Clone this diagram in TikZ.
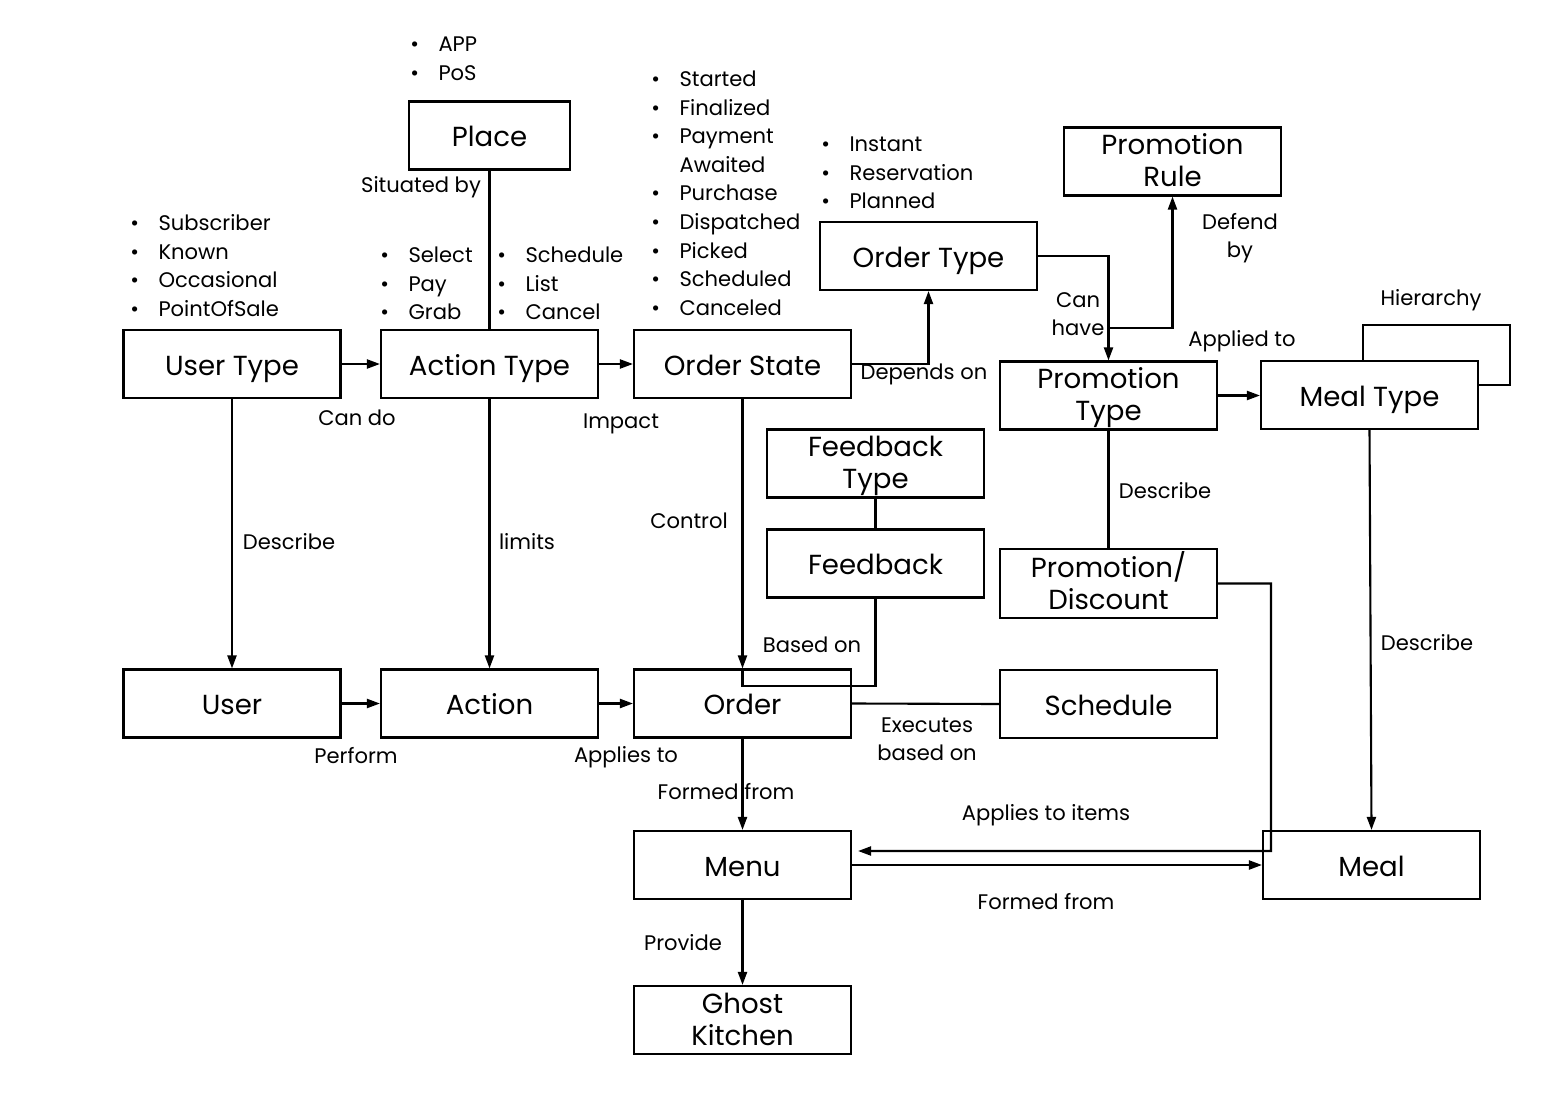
\documentclass[tikz,border=0pt]{standalone}
\usepackage{fontspec}
\usepackage{array}
\setmainfont{Poppins}
\usetikzlibrary{arrows.meta}

% fixed line box for entity names, so one- and two-line names sit alike
\newcommand{\entstrut}{\rule[-4.1pt]{0pt}{18.2pt}}
\newcommand{\ent}[2][-1.4pt]{{\renewcommand{\arraystretch}{0}%
  \raisebox{#1}[\height][\depth]{\begin{tabular}{@{}>{\entstrut}c@{}}#2\end{tabular}}}}
\newcommand{\itemlist}[1]{\begin{tabular}{@{}l@{\hspace{3.9mm}}l@{}}#1\end{tabular}}

\tikzset{
  entity/.style={draw, line width=1.2pt, minimum width=4.34cm, minimum height=1.36cm,
    inner sep=1pt, font=\fontsize{15.7}{18.8}\selectfont},
  rel/.style={align=center, inner sep=1pt, font=\fontsize{12}{16}\selectfont},
  items/.style={anchor=north west, inner sep=0pt, font=\fontsize{12}{16.3}\selectfont},
  link/.style={line width=1.2pt},
  arr/.style={link, -{Triangle[length=2.6mm,width=1.8mm]}},
}

\begin{document}
\begin{tikzpicture}[x=0.02cm, y=-0.02cm]
\useasboundingbox (0,0) rectangle (1564,1118);

% ---- entities ----
\node[entity, minimum width=3.22cm] (pl) at (489.5,135.5) {\ent{Place}};
\node[entity] (ut) at (232,364) {\ent{User Type}};
\node[entity] (at) at (489.5,364) {\ent{Action Type}};
\node[entity] (os) at (742.5,364) {\ent{Order State}};
\node[entity] (ot) at (928.5,256) {\ent{Order Type}};
\node[entity] (pr) at (1172.5,161.5) {\ent[-0.3pt]{Promotion\\Rule}};
\node[entity] (pt) at (1108.5,395.5) {\ent[-0.3pt]{Promotion\\Type}};
\node[entity] (mt) at (1369.5,395) {\ent{Meal Type}};
\node[entity] (ft) at (875.5,463.5) {\ent[-0.3pt]{Feedback\\Type}};
\node[entity] (fb) at (875.5,563.5) {\ent{Feedback}};
\node[entity] (pd) at (1108.5,583.5) {\ent[-0.3pt]{Promotion/\\Discount}};
\node[entity] (us) at (232,703.5) {\ent{User}};
\node[entity] (ac) at (489.5,703.5) {\ent{Action}};
\node[entity] (od) at (742.5,703.5) {\ent{Order}};
\node[entity] (sc) at (1108.5,704) {\ent{Schedule}};
\node[entity] (mn) at (742.5,865) {\ent{Menu}};
\node[entity] (ml) at (1371.5,865) {\ent{Meal}};
\node[entity] (gk) at (742.5,1020) {\ent[-0.3pt]{Ghost\\Kitchen}};

% ---- value lists ----
\node[items] (pl-list) at (410,31) {\itemlist{\textbullet & APP\\ \textbullet & PoS}};
\node[items] (ut-list) at (130,210) {\itemlist{\textbullet & Subscriber\\ \textbullet & Known\\
  \textbullet & Occasional\\ \textbullet & PointOfSale}};
\node[items] (at-list-a) at (380,242) {\itemlist{\textbullet & Select\\ \textbullet & Pay\\ \textbullet & Grab}};
\node[items] (at-list-b) at (497,242) {\itemlist{\textbullet & Schedule\\ \textbullet & List\\ \textbullet & Cancel}};
\node[items] (os-list) at (651,66) {\itemlist{\textbullet & Started\\ \textbullet & Finalized\\
  \textbullet & Payment\\ & Awaited\\ \textbullet & Purchase\\ \textbullet & Dispatched\\
  \textbullet & Picked\\ \textbullet & Scheduled\\ \textbullet & Canceled}};
\node[items] (ot-list) at (821,131) {\itemlist{\textbullet & Instant\\ \textbullet & Reservation\\ \textbullet & Planned}};

% ---- connectors ----
\draw[link] (pl) -- (at);
\draw[arr] (ut) -- (at);
\draw[arr] (at) -- (os);
\draw[arr] (os.east) -| (ot.south);
\draw[arr] (ot.east) -| (pt.north);
\coordinate (rulefork) at (1108.5,328);
\draw[arr] (rulefork) -| (pr.south);
\draw[arr] (pt.east) -- (pt.east -| mt.west);
\draw[link] ([xshift=-0.13cm]mt.north) |- (1510,325) |- ([yshift=0.2cm]mt.east);
\draw[arr] (mt.south) -- (ml.north);
\draw[link] (pt) -- (pd);
\draw[arr] (ut) -- (us);
\draw[arr] (at) -- (ac);
\draw[arr] (os) -- (od);
\draw[link] (ft) -- (fb);
\coordinate (fbjoin) at (742.5,686);
\draw[link] (fb.south) |- (fbjoin) -- (od.north);
\draw[link] (od.east) -- (sc.west);
\draw[arr] (us) -- (ac);
\draw[arr] (ac) -- (od);
\draw[arr] (od) -- (mn);
\draw[arr] (mn) -- (gk);
\draw[arr] (mn.east) -- (ml.west);
\coordinate (promocorner) at (1271,851);
\draw[arr] (pd.east) -| (promocorner) -- ([xshift=0.12cm,yshift=0.28cm]mn.east);

% ---- relation labels ----
\node[rel] (l-situated) at (421,187) {Situated by};
\node[rel] (l-cando) at (357,418) {Can do};
\node[rel] (l-impact) at (621,424) {Impact};
\node[rel] (l-depends) at (924,374) {Depends on};
\node[rel] (l-canhave) at (1078,314) {Can\\have};
\node[rel] (l-defend) at (1240,238) {Defend\\by};
\node[rel] (l-applied) at (1242,341) {Applied to};
\node[rel] (l-hier) at (1431,300) {Hierarchy};
\node[rel] (l-desc-user) at (289,542) {Describe};
\node[rel] (l-limits) at (527,542) {limits};
\node[rel] (l-control) at (689,521) {Control};
\node[rel] (l-desc-promo) at (1165,491) {Describe};
\node[rel] (l-based) at (812,645) {Based on};
\node[rel] (l-desc-meal) at (1427,643) {Describe};
\node[rel] (l-executes) at (927,739) {Executes\\based on};
\node[rel] (l-perform) at (356,756) {Perform};
\node[rel] (l-applies) at (626,757) {Applies to};
\node[rel] (l-formed-menu) at (726,792) {Formed from};
\node[rel] (l-items) at (1046,815) {Applies to items};
\node[rel] (l-formed-meal) at (1046,902) {Formed from};
\node[rel] (l-provide) at (683,943) {Provide};

\end{tikzpicture}
\end{document}
